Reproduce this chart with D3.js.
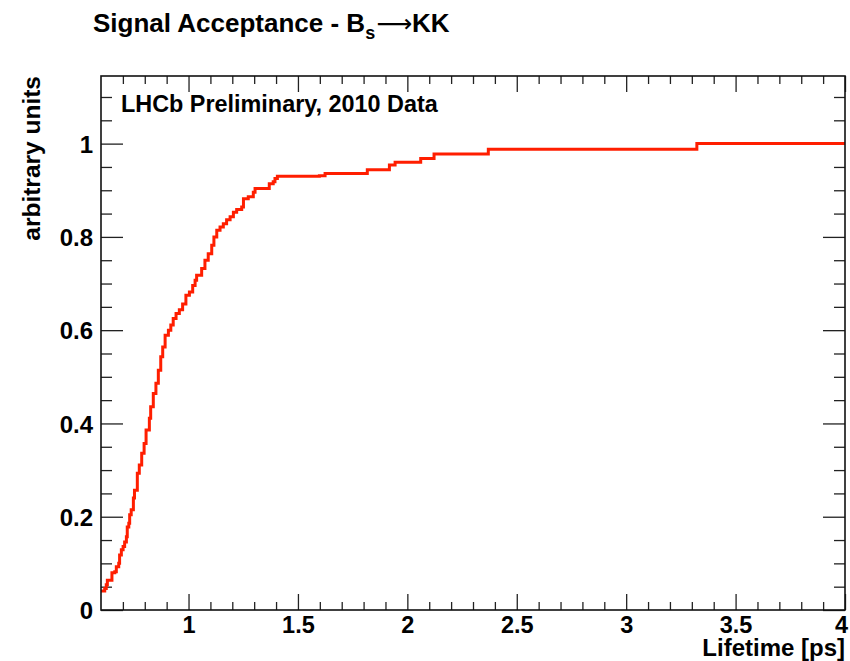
<!DOCTYPE html>
<html><head><meta charset="utf-8">
<script src="https://cdn.jsdelivr.net/npm/d3@7"></script>
<style>body{margin:0;background:#fff;} svg{display:block;font-family:"Liberation Sans",Arial,Helvetica,sans-serif;font-weight:bold;}</style>
</head><body>
<script>
// Step points: lifetime (ps) where a new bin level begins, and the acceptance level
const stepLifetime = [0.600,0.617,0.624,0.629,0.650,0.663,0.670,0.681,0.685,0.693,0.701,0.708,0.716,0.720,0.727,0.731,0.738,0.748,0.753,0.766,0.775,0.786,0.797,0.806,0.821,0.827,0.839,0.851,0.862,0.873,0.882,0.893,0.908,0.919,0.930,0.943,0.958,0.973,0.988,1.004,1.019,1.030,1.037,1.060,1.075,1.090,1.106,1.116,1.129,1.144,1.159,1.174,1.190,1.205,1.220,1.243,1.251,1.273,1.296,1.304,1.369,1.387,1.395,1.406,1.598,1.624,1.817,1.918,1.944,2.061,2.122,2.370,3.323,4.0];
const stepAcceptance = [0.041,0.046,0.054,0.064,0.080,0.082,0.093,0.100,0.118,0.129,0.136,0.146,0.157,0.178,0.186,0.204,0.215,0.240,0.257,0.293,0.311,0.336,0.357,0.386,0.411,0.436,0.464,0.486,0.514,0.543,0.564,0.589,0.600,0.611,0.625,0.636,0.644,0.656,0.675,0.682,0.696,0.707,0.718,0.732,0.750,0.764,0.782,0.800,0.814,0.821,0.828,0.837,0.843,0.853,0.859,0.864,0.882,0.886,0.896,0.904,0.914,0.918,0.925,0.930,0.931,0.936,0.944,0.954,0.960,0.968,0.978,0.988,1.000,1.000];
const xMajorTicks = [1,1.5,2,2.5,3,3.5,4];
const xTickLabels = ["1","1.5","2","2.5","3","3.5","4"];
const yMajorTicks = [0,0.2,0.4,0.6,0.8,1];
const yTickLabels = ["0","0.2","0.4","0.6","0.8","1"];

const W = 850, H = 661;
const L = 101, R = 845, T = 76, B = 610;
const x = d3.scaleLinear().domain([0.6, 4]).range([L, R]);
const y = d3.scaleLinear().domain([0, 1.145]).range([B, T]);

const svg = d3.select("body").append("svg").attr("width", W).attr("height", H);

const xMinor = d3.range(7, 40).map(d => d / 10).filter(d => !xMajorTicks.some(m => Math.abs(m - d) < 1e-6));
const yMinor = d3.range(1, 23).map(d => d * 0.05).filter(d => !yMajorTicks.some(m => Math.abs(m - d) < 1e-6));

function ticks(g) {
  g.selectAll("path").remove();
  g.selectAll("line").attr("stroke", "#222").attr("stroke-width", 1.3);
}
// bottom
svg.append("g").attr("transform", `translate(0,${B})`)
  .call(d3.axisBottom(x).tickValues(xMinor).tickSize(-8).tickFormat(""))
  .call(ticks).selectAll("text").remove();
const bx = svg.append("g").attr("transform", `translate(0,${B})`)
  .call(d3.axisBottom(x).tickValues(xMajorTicks).tickSize(-16).tickPadding(24).tickFormat((d, i) => xTickLabels[i]))
  .call(ticks);
bx.selectAll("text").attr("dy", null).attr("y", 22.5).attr("fill", "#000")
  .attr("x", d => d === 4 ? -4 : 0)
  .style("font-size", "23.5px").style("font-family", "Liberation Sans, Arial, sans-serif").style("font-weight", "bold");
// top
svg.append("g").attr("transform", `translate(0,${T})`)
  .call(d3.axisTop(x).tickValues(xMinor).tickSize(-8).tickFormat("")).call(ticks);
svg.append("g").attr("transform", `translate(0,${T})`)
  .call(d3.axisTop(x).tickValues(xMajorTicks).tickSize(-16).tickFormat("")).call(ticks);
// left
svg.append("g").attr("transform", `translate(${L},0)`)
  .call(d3.axisLeft(y).tickValues(yMinor).tickSize(-11).tickFormat("")).call(ticks);
const ly = svg.append("g").attr("transform", `translate(${L},0)`)
  .call(d3.axisLeft(y).tickValues(yMajorTicks).tickSize(-22).tickFormat((d, i) => yTickLabels[i]))
  .call(ticks);
ly.selectAll("text").attr("x", -8).attr("dy", "0.36em").attr("fill", "#000")
  .style("font-size", "24px").style("font-family", "Liberation Sans, Arial, sans-serif").style("font-weight", "bold");
// right
svg.append("g").attr("transform", `translate(${R},0)`)
  .call(d3.axisRight(y).tickValues(yMinor).tickSize(-11).tickFormat("")).call(ticks);
svg.append("g").attr("transform", `translate(${R},0)`)
  .call(d3.axisRight(y).tickValues(yMajorTicks).tickSize(-22).tickFormat("")).call(ticks);

// data line
const pts = stepLifetime.map((t, i) => [t, stepAcceptance[i]]);
svg.append("path").datum(pts)
  .attr("d", d3.line().x(d => x(d[0])).y(d => y(d[1])).curve(d3.curveStepAfter))
  .attr("fill", "none").attr("stroke", "#ff1e00").attr("stroke-width", 3);

// frame
svg.append("rect").attr("x", L).attr("y", T).attr("width", R - L).attr("height", B - T)
  .attr("fill", "none").attr("stroke", "#111").attr("stroke-width", 1.6);

// title
const title = svg.append("text").attr("x", 93).attr("y", 32).style("font-size", "26px").attr("fill", "#000");
title.append("tspan").text("Signal Acceptance - B");
title.append("tspan").attr("dy", 7).style("font-size", "18px").text("s");
title.append("tspan").attr("dy", -7).attr("dx", 1).style("font-weight", "normal")
  .style("font-family", "DejaVu Sans, sans-serif").style("font-size", "25px").text("\u27F6");
title.append("tspan").text("KK");

svg.append("text").attr("x", 121).attr("y", 112).style("font-size", "23.4px").attr("fill", "#000")
  .text("LHCb Preliminary, 2010 Data");

svg.append("text").attr("x", R).attr("y", 655.5).attr("text-anchor", "end").style("font-size", "24px").attr("fill", "#000")
  .text("Lifetime [ps]");
svg.append("text").attr("transform", `translate(40,${T}) rotate(-90)`).attr("text-anchor", "end")
  .style("font-size", "24.5px").attr("fill", "#000").text("arbitrary units");
</script>
</body></html>
